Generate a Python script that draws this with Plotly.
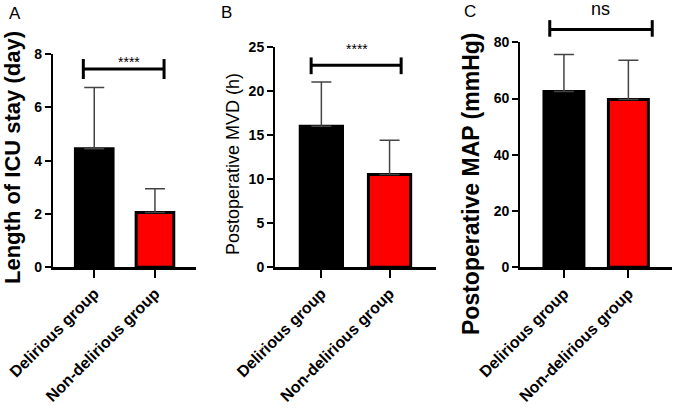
import plotly.graph_objects as go

# ---------------- data ----------------
categories = ["Delirious group", "Non-delirious group"]

icu_mean = [4.45, 2.05]
icu_sd = [2.3, 0.9]

mvd_mean = [16.0, 10.5]
mvd_sd = [5.0, 3.9]

map_mean = [62.5, 59.7]
map_sd = [13.2, 13.9]

bar_colors = ["#000000", "#ff0000"]

panel_letters = ["A", "B", "C"]
y_titles = ["Length of ICU stay (day)", "Postoperative MVD (h)", "Postoperative MAP (mmHg)"]
sig_labels = ["****", "****", "ns"]

y_ranges = [(0, 8), (0, 25), (0, 80)]
y_dtick = [2, 5, 20]

# significance brackets (data coords): x0, x1, y, cap_low, cap_high, text_y, text_x
brackets = [
    (-0.18, 1.15, 7.45, 7.07, 7.82, 7.7, 0.57),
    (-0.15, 1.17, 22.9, 21.9, 23.8, 24.8, 0.52),
    (-0.22, 1.37, 84.6, 82.0, 87.9, 92.0, 0.56),
]

# ---------------- layout helpers ----------------
x_range = (-0.68, 1.68)
x_domains = [(0.078, 0.289), (0.405, 0.642), (0.766, 0.990)]
y_domains = [(0.350, 0.868), (0.350, 0.886), (0.350, 0.897)]

FONT = "Arial, Liberation Sans, sans-serif"

fig = go.Figure()
means = [icu_mean, mvd_mean, map_mean]
sds = [icu_sd, mvd_sd, map_sd]

layout = dict(
    width=679, height=411,
    margin=dict(l=0, r=0, t=0, b=0, autoexpand=False),
    paper_bgcolor="white", plot_bgcolor="white",
    showlegend=False,
    font=dict(family=FONT, color="black"),
)

shapes = []
annotations = []

def to_xdom(v):
    return (v - x_range[0]) / (x_range[1] - x_range[0])

for i in range(3):
    sfx = "" if i == 0 else str(i + 1)
    xa, ya = "x" + sfx, "y" + sfx
    fig.add_trace(go.Bar(
        x=categories, y=means[i],
        marker=dict(color=bar_colors, line=dict(color="black", width=3)),
        width=0.62,
        error_y=dict(type="data", array=sds[i], arrayminus=[0, 0], symmetric=False,
                     color="#444444", thickness=1.5, width=10),
        xaxis=xa, yaxis=ya, hoverinfo="skip",
    ))
    layout["xaxis" + sfx] = dict(
        domain=list(x_domains[i]), anchor=ya, range=list(x_range), automargin=False,
        showline=True, linecolor="black", linewidth=2.5,
        ticks="outside", ticklen=8, tickwidth=2, tickcolor="black",
        tickangle=-45, showgrid=False, zeroline=False,
        tickfont=dict(family=FONT, size=16, color="black", weight="bold"),
    )
    layout["yaxis" + sfx] = dict(
        domain=list(y_domains[i]), anchor=xa, range=list(y_ranges[i]), automargin=False,
        dtick=y_dtick[i], tick0=0,
        showline=True, linecolor="black", linewidth=2,
        ticks="outside", ticklen=6, tickwidth=2, tickcolor="black",
        showgrid=False, zeroline=False,
        tickfont=dict(family=FONT, size=14, color="black", weight="bold"),
    )

    # significance bracket
    x0, x1, yb, ylo, yhi, ty, tx = brackets[i]
    ymax = y_ranges[i][1]
    xd, yd = xa + " domain", ya + " domain"
    line = dict(color="black", width=3)
    shapes.append(dict(type="line", xref=xd, yref=yd, x0=to_xdom(x0), x1=to_xdom(x1),
                       y0=yb / ymax, y1=yb / ymax, line=line))
    for xv in (x0, x1):
        shapes.append(dict(type="line", xref=xd, yref=yd, x0=to_xdom(xv), x1=to_xdom(xv),
                           y0=ylo / ymax, y1=yhi / ymax, line=line))
    annotations.append(dict(
        text=sig_labels[i], xref=xd, yref=yd, x=to_xdom(tx), y=ty / ymax,
        showarrow=False, xanchor="center", yanchor="middle",
        font=dict(family=FONT, size=14 if sig_labels[i] == "****" else 18, color="black"),
    ))

# panel letters
letter_pos = [(15, 14), (227, 13), (470, 12)]
for (px, py), t in zip(letter_pos, panel_letters):
    annotations.append(dict(text=t, xref="paper", yref="paper", x=px / 679, y=1 - py / 411,
                            showarrow=False, xanchor="center", yanchor="middle",
                            font=dict(family=FONT, size=17, color="black")))

# y-axis titles
title_pos = [(12, 158, 22, "bold"), (233, 164, 18, "normal"), (471, 184, 23, "bold")]
for (px, py, fs, wt), t in zip(title_pos, y_titles):
    annotations.append(dict(text=t, xref="paper", yref="paper", x=px / 679, y=1 - py / 411,
                            showarrow=False, xanchor="center", yanchor="middle", textangle=-90,
                            font=dict(family=FONT, size=fs, color="black", weight=wt)))

layout["shapes"] = shapes
layout["annotations"] = annotations
fig.update_layout(**layout)

fig.write_html("out.html", config={"displayModeBar": False},
               post_script="document.body.style.margin='0';document.body.style.overflow='hidden';")
